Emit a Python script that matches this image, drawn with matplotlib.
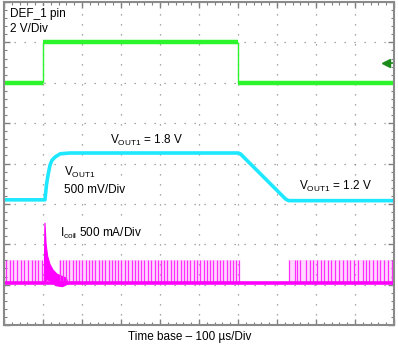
import matplotlib.pyplot as plt

plt.rcParams['font.family'] = ['Liberation Sans', 'DejaVu Sans']

# time axis in µs (100 µs/Div, 10 divisions)
def_t = [0, 100, 100, 600, 600, 1000]
def_v = [0, 0, 2, 2, 0, 0]                      # V, 2 V/Div

vout_t = [0, 105, 109, 113, 118, 123, 131, 144, 169, 600, 606, 662, 722, 730, 1000]
vout_v = [1.21, 1.21, 1.40, 1.52, 1.64, 1.70, 1.74, 1.78, 1.79, 1.79, 1.78, 1.51, 1.22, 1.2, 1.2]   # V, 500 mV/Div

# coil current switching pulses (µs), peak in mA, 500 mA/Div
pulse_t = [5, 15, 23, 33, 44, 51, 62, 72, 79, 87, 97,
           144, 152, 160, 167, 176, 184, 193, 200, 209, 217, 226, 234, 243, 251,
           259, 268, 276, 285, 293, 301, 310, 318, 327, 335, 343, 352, 360, 369,
           377, 386, 394, 402, 411, 419, 428, 436, 444, 453, 461, 470, 478, 487,
           495, 503, 512, 520, 529, 537, 545, 554, 562, 571, 579, 588, 596, 602,
           731, 746, 751, 759, 774, 785, 792, 803, 813, 821, 831, 838, 849, 859,
           869, 879, 887, 897, 908, 921, 928, 936, 946, 956, 964, 974, 985, 995]
pulse_peak = 285
bursts = [(0, 100), (140, 603), (731, 1000)]

# inrush at enable
surge_up_t = [103, 105, 108, 112, 118, 126, 136, 150, 160]
surge_up_i = [0, 745, 480, 330, 230, 160, 110, 80, 60]
surge_lo_t = [165, 150, 135, 120, 110, 103]
surge_lo_i = [-10, -45, -35, 20, 40, 0]

# channel offsets in divisions
off_def, off_vout, off_icoil = 6.0, 0.68, 1.04

fig = plt.figure(figsize=(3.98, 3.49), dpi=100)
ax = fig.add_axes([4 / 398, 24 / 349, 390 / 398, 323 / 349])


def tx(t):
    return [v / 100 for v in t]


# coil current
for a, b in bursts:
    ax.fill_between([a / 100, b / 100], off_icoil, off_icoil + pulse_peak / 500,
                    color='#ff66ff', alpha=0.25, lw=0)
ax.vlines(tx(pulse_t), off_icoil, off_icoil + pulse_peak / 500, color='#ff2eff', lw=0.9)
ax.fill(tx(surge_up_t + surge_lo_t),
        [off_icoil + i / 500 for i in surge_up_i + surge_lo_i],
        color='#ff00ff', lw=0.8)
ax.plot([0, 10], [off_icoil, off_icoil], color='#ff00ff', lw=2.6)

# output voltage
ax.plot(tx(vout_t), [off_vout + v / 0.5 for v in vout_v], color='#1ee8ff', lw=2.6)

# DEF_1 pin: noisy flat levels drawn thick, fast edges thin
for i in range(len(def_t) - 1):
    xs = tx(def_t[i:i + 2])
    ys = [off_def + v / 2 for v in def_v[i:i + 2]]
    flat = def_v[i] == def_v[i + 1]
    ax.plot(xs, ys, color='#2cf52c', lw=3.2 if flat else 1.0,
            solid_capstyle='butt')

# ground marker
ax.plot([9.77, 9.98], [6.49, 6.49], color='#1a8a1a', lw=1.2, clip_on=False)
ax.plot(9.8, 6.49, marker='<', color='#1a8a1a', ms=6, clip_on=False)

ax.set_xlim(0, 10)
ax.set_ylim(0, 8)
for k in range(1, 10):
    ax.axvline(k, color='#8c8c8c', lw=0.9, ls=(0, (1, 7)), zorder=0)
for k in range(1, 8):
    ax.axhline(k, color='#8c8c8c', lw=0.9, ls=(0, (1, 7)), zorder=0)

ax.set_xticks(range(11))
ax.set_yticks(range(9))
ax.set_xticks([k / 5 for k in range(51)], minor=True)
ax.set_yticks([k / 5 for k in range(41)], minor=True)
ax.tick_params(which='both', direction='in', top=True, right=True,
               labelbottom=False, labelleft=False, color='#808080')
ax.tick_params(which='major', length=4, width=1)
ax.tick_params(which='minor', length=2.5, width=0.8)
for s in ax.spines.values():
    s.set_color('#8a8a8a')
    s.set_linewidth(1.5)

box = dict(facecolor='white', edgecolor='none', pad=1.5)
fs = 8.5
ax.text(0.15, 7.85, 'DEF_1 pin\n2 V/Div', fontsize=fs, va='top', ha='left',
        linespacing=1.35, bbox=box)
ax.text(2.72, 4.58, r'V$_{\mathregular{OUT1}}$ = 1.8 V', fontsize=fs, va='center', bbox=box)
ax.text(1.54, 3.79, r'V$_{\mathregular{OUT1}}$', fontsize=fs, va='center', bbox=box)
ax.text(1.54, 3.35, '500 mV/Div', fontsize=fs, va='center', bbox=box)
ax.text(7.56, 3.42, r'V$_{\mathregular{OUT1}}$ = 1.2 V', fontsize=fs, va='center', bbox=box)
ax.text(1.44, 2.26, r'I$_{\mathregular{coil}}$ 500 mA/Div', fontsize=fs, va='center', bbox=box)

fig.text(190 / 398, 1 - 337 / 349, 'Time base \u2013 100 \u00b5s/Div', fontsize=fs,
         ha='center', va='center')

fig.savefig('out.png', dpi=100)
